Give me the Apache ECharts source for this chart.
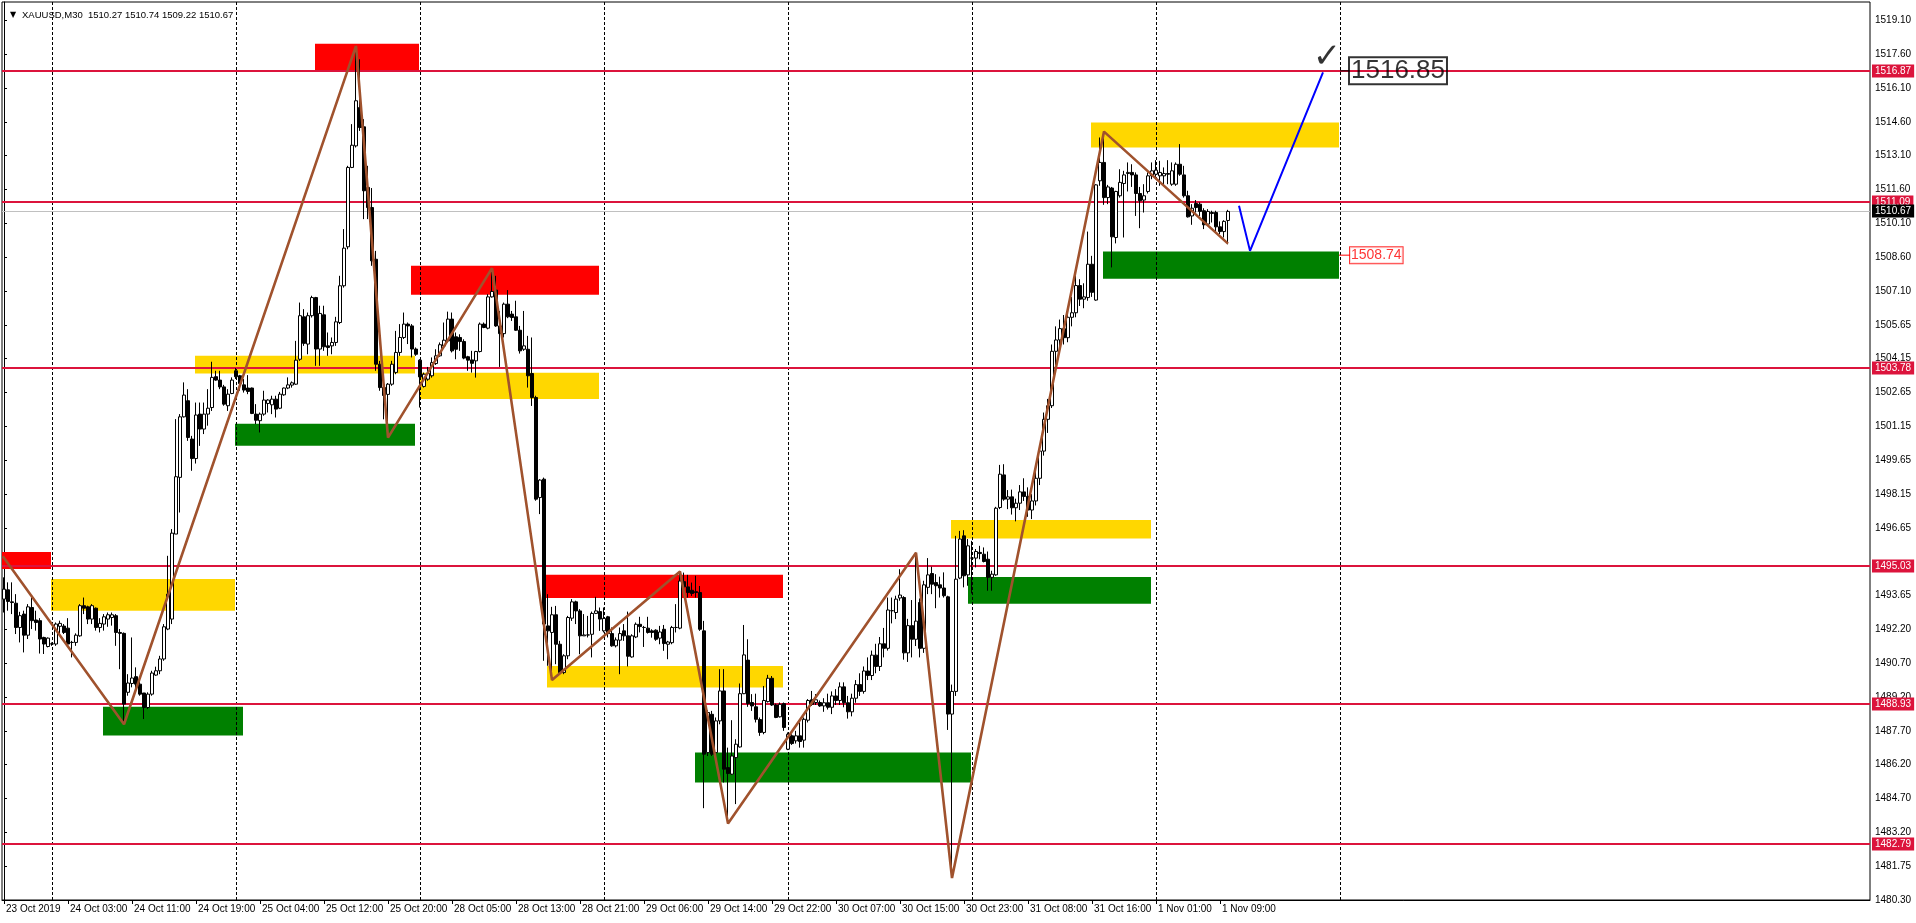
<!DOCTYPE html>
<html><head><meta charset="utf-8">
<script src="https://cdn.jsdelivr.net/npm/echarts@6/dist/echarts.min.js"></script>
<style>html,body{margin:0;padding:0;background:#fff;overflow:hidden}#c{width:1916px;height:923px}</style>
</head><body><div id="c"></div>
<script>
// ---------------- DATA ----------------
const headerText = 'XAUUSD,M30  1510.27 1510.74 1509.22 1510.67';
// trading sessions shown (day label, first hour, last hour) – M30 bars
const sessions = [['23 Oct',18,23.5],['24 Oct',1,23.5],['25 Oct',1,23.5],['28 Oct',1,23.5],['29 Oct',1,23.5],['30 Oct',1,23.5],['31 Oct',1,23.5],['1 Nov',1,10]];
const firstLabelYear = '2019';
const totalSlots = 467;           // bars visible incl. empty future area
const labelEvery = 16;
// candles [open, high, low, close]
const candles = [
[1493.57,1494.53,1492.98,1494.01],[1493.98,1494.31,1493.06,1493.47],[1493.45,1494.31,1492.91,1493.42],[1493.39,1493.79,1492.03,1492.32],[1492.32,1493.01,1491.66,1492.84],
[1492.91,1493.06,1491.22,1491.98],[1491.98,1493.35,1491.81,1493.23],[1493.20,1493.64,1492.25,1492.62],[1492.65,1493.06,1492.18,1492.54],[1492.62,1492.73,1491.17,1491.81],
[1491.88,1491.91,1491.15,1491.59],[1491.48,1491.88,1491.44,1491.85],[1491.59,1491.66,1491.51,1491.60],[1491.59,1492.54,1491.51,1492.47],[1492.37,1492.62,1492.03,1492.50],
[1492.38,1492.47,1492.03,1492.10],[1492.29,1492.73,1491.51,1491.59],[1491.66,1491.73,1491.00,1491.66],[1491.66,1492.06,1491.51,1491.98],[1491.95,1493.35,1491.91,1493.28],
[1493.28,1493.64,1492.91,1493.17],[1493.23,1493.28,1492.47,1492.69],[1492.69,1493.35,1492.47,1493.28],[1493.17,1493.20,1492.18,1492.32],[1492.32,1492.73,1492.10,1492.50],
[1492.47,1492.91,1492.18,1492.79],[1492.69,1492.98,1492.35,1492.88],[1492.76,1492.98,1492.40,1492.88],[1492.84,1492.91,1491.51,1492.10],[1492.10,1492.25,1490.48,1492.06],
[1492.06,1492.10,1488.06,1488.94],[1489.46,1490.26,1489.31,1489.87],[1489.85,1491.88,1489.68,1490.09],[1490.15,1490.56,1489.60,1489.82],[1489.82,1490.12,1489.31,1489.38],
[1489.43,1489.43,1488.28,1488.79],[1488.79,1489.46,1488.72,1489.38],[1489.38,1490.41,1489.31,1490.31],[1490.22,1490.59,1490.19,1490.41],[1490.41,1491.07,1490.26,1490.93],
[1490.93,1492.47,1490.85,1492.35],[1492.25,1495.48,1492.20,1493.79],[1492.69,1496.66,1492.47,1496.48],[1496.44,1501.51,1496.44,1498.97],[1498.94,1501.73,1497.39,1501.61],
[1501.61,1503.13,1501.58,1502.57],[1502.32,1502.83,1500.55,1500.70],[1500.63,1500.77,1499.23,1499.77],[1499.77,1502.24,1499.55,1501.69],[1501.73,1502.24,1500.33,1501.07],
[1501.07,1502.24,1500.85,1501.73],[1501.73,1502.83,1501.22,1501.99],[1502.02,1504.04,1501.87,1503.35],[1503.38,1503.64,1503.20,1503.23],[1503.23,1503.64,1502.83,1502.93],
[1502.93,1503.02,1502.10,1502.17],[1502.10,1502.83,1501.87,1502.61],[1502.64,1503.35,1502.61,1503.23],[1503.64,1503.76,1503.28,1503.38],[1503.42,1503.46,1502.76,1503.08],
[1503.02,1503.28,1502.68,1502.79],[1502.88,1503.45,1502.61,1502.73],[1502.88,1502.90,1501.73,1501.76],[1501.73,1502.17,1501.29,1501.46],[1501.44,1501.80,1500.92,1501.73],
[1501.73,1502.76,1501.66,1502.35],[1502.20,1502.39,1501.80,1502.35],[1502.14,1502.54,1501.73,1502.39],[1502.39,1502.54,1501.58,1501.95],[1501.99,1502.71,1501.95,1502.61],
[1502.58,1502.90,1502.54,1502.88],[1502.88,1503.35,1502.83,1503.02],[1503.01,1503.17,1502.90,1503.11],[1503.05,1504.96,1503.02,1504.11],[1504.15,1506.65,1504.08,1506.07],
[1506.02,1506.36,1504.74,1504.85],[1504.82,1506.21,1504.37,1506.07],[1506.07,1506.95,1505.99,1506.87],[1506.87,1506.90,1503.86,1504.60],[1504.60,1506.51,1503.86,1506.17],
[1506.11,1506.51,1504.52,1504.70],[1504.74,1505.33,1504.30,1504.67],[1504.74,1505.11,1504.37,1504.89],[1504.89,1506.02,1504.74,1505.80],[1505.77,1507.83,1505.70,1507.39],
[1507.39,1509.89,1507.31,1509.05],[1509.11,1512.68,1509.00,1512.61],[1512.61,1514.52,1512.58,1513.59],[1513.56,1517.97,1513.49,1515.55],[1515.25,1517.38,1514.22,1514.37],
[1514.40,1514.74,1510.33,1511.58],[1511.73,1512.68,1510.33,1510.84],[1510.84,1511.70,1508.27,1508.49],[1508.56,1508.93,1503.64,1503.93],[1503.93,1504.08,1502.76,1502.90],
[1502.90,1503.35,1501.50,1502.55],[1502.60,1503.10,1500.70,1503.05],[1503.05,1504.08,1502.98,1503.93],[1503.57,1505.40,1503.49,1504.45],[1504.45,1505.70,1504.30,1505.11],
[1505.11,1506.21,1505.04,1505.70],[1505.70,1505.77,1504.82,1505.62],[1505.62,1505.70,1504.23,1504.60],[1504.60,1504.67,1504.30,1504.37],[1504.11,1504.15,1502.02,1503.37],
[1502.95,1503.56,1502.90,1503.49],[1503.27,1503.81,1503.20,1503.52],[1503.42,1504.23,1503.34,1504.00],[1503.96,1504.59,1503.90,1504.30],[1504.30,1504.89,1504.26,1504.79],
[1504.74,1505.77,1504.70,1504.99],[1504.96,1506.25,1504.89,1505.92],[1505.92,1506.21,1504.45,1504.52],[1505.14,1505.33,1504.15,1504.59],[1505.11,1505.25,1504.52,1504.93],
[1504.93,1505.03,1504.15,1504.20],[1504.26,1504.30,1503.64,1504.11],[1504.12,1504.52,1503.56,1503.97],[1504.08,1504.52,1503.34,1504.49],[1504.49,1505.77,1504.45,1505.70],
[1505.70,1505.77,1505.52,1505.55],[1505.52,1507.02,1505.47,1506.90],[1506.90,1508.12,1506.87,1507.14],[1507.20,1507.83,1505.58,1505.62],[1505.62,1506.28,1503.81,1505.28],
[1505.28,1506.65,1505.11,1506.58],[1506.58,1507.20,1505.96,1506.02],[1506.14,1506.28,1505.84,1505.99],[1506.02,1506.73,1505.40,1505.43],[1505.43,1505.62,1504.40,1504.52],
[1504.59,1506.28,1504.52,1504.74],[1504.59,1505.18,1502.90,1503.42],[1503.52,1505.11,1502.09,1502.46],[1502.46,1502.54,1497.91,1497.98],[1498.05,1498.86,1497.32,1498.82],
[1498.86,1498.93,1490.85,1492.47],[1492.39,1493.79,1490.63,1492.17],[1492.10,1493.23,1490.05,1492.88],[1492.88,1493.27,1490.70,1491.58],[1491.58,1491.73,1490.26,1490.33],
[1490.33,1491.14,1490.26,1491.07],[1491.07,1492.83,1490.92,1492.76],[1492.73,1493.57,1492.61,1493.45],[1493.45,1493.50,1492.47,1493.05],[1493.05,1493.13,1491.14,1491.95],
[1491.95,1492.91,1491.95,1491.99],[1491.99,1492.83,1491.88,1491.99],[1492.02,1493.02,1491.00,1492.94],[1492.94,1493.67,1492.91,1493.05],[1493.02,1493.20,1492.17,1492.69],
[1492.17,1493.20,1492.10,1492.72],[1492.79,1492.83,1491.88,1492.05],[1492.05,1492.32,1491.47,1491.51],[1491.51,1491.88,1491.44,1491.77],[1491.76,1492.32,1490.26,1492.05],
[1492.17,1492.47,1491.73,1491.95],[1491.95,1493.02,1490.60,1491.05],[1491.02,1492.02,1490.99,1491.95],[1491.90,1492.54,1491.85,1492.46],[1492.46,1492.79,1492.10,1492.36],
[1492.32,1492.39,1491.46,1492.32],[1492.29,1492.79,1492.05,1492.10],[1492.17,1492.24,1491.87,1492.10],[1492.20,1492.24,1491.73,1491.80],[1491.85,1492.39,1491.58,1492.12],
[1492.24,1492.43,1491.29,1491.61],[1491.58,1491.73,1490.92,1491.68],[1491.65,1492.39,1491.58,1492.32],[1492.32,1493.35,1492.10,1492.32],[1492.29,1494.78,1492.24,1494.37],
[1494.34,1494.74,1493.93,1494.11],[1494.11,1494.64,1493.64,1493.86],[1493.96,1494.30,1493.71,1493.82],[1493.90,1494.60,1493.64,1493.86],[1493.86,1494.15,1492.17,1492.24],
[1492.17,1492.61,1484.35,1486.73],[1486.80,1488.67,1486.65,1488.57],[1488.49,1488.64,1486.65,1486.73],[1486.80,1488.35,1486.73,1488.20],[1488.20,1490.48,1488.05,1489.52],
[1489.52,1490.48,1485.48,1486.07],[1486.14,1487.02,1483.67,1485.88],[1485.85,1488.23,1485.82,1486.65],[1486.58,1487.39,1484.53,1487.17],[1487.05,1489.85,1487.02,1489.40],
[1489.40,1492.43,1489.38,1491.11],[1490.88,1491.80,1488.82,1488.96],[1489.01,1489.38,1488.64,1488.86],[1488.82,1489.40,1488.13,1488.27],[1488.26,1488.35,1487.54,1487.69],
[1487.69,1489.74,1487.61,1489.10],[1489.05,1490.23,1489.01,1490.08],[1490.08,1490.18,1488.86,1488.90],[1488.90,1488.96,1488.32,1488.35],[1488.38,1489.01,1488.35,1488.93],
[1488.96,1489.01,1487.76,1487.91],[1486.95,1487.69,1486.91,1487.61],[1487.54,1487.61,1487.14,1487.20],[1487.32,1487.76,1487.20,1487.54],[1487.54,1488.13,1487.02,1487.29],
[1487.35,1488.35,1487.02,1488.27],[1488.23,1489.16,1488.13,1489.10],[1489.13,1489.52,1488.86,1488.93],[1489.01,1489.38,1488.90,1489.13],[1489.01,1489.10,1488.82,1488.86],
[1488.86,1489.20,1488.60,1489.00],[1489.00,1489.40,1488.70,1488.80],[1488.80,1489.50,1488.50,1489.30],[1489.30,1489.60,1488.90,1489.10],[1489.10,1489.90,1488.90,1489.70],
[1489.70,1489.90,1488.80,1489.00],[1489.00,1489.30,1488.30,1488.60],[1488.60,1489.40,1488.40,1489.20],[1489.20,1490.00,1489.00,1489.80],[1489.80,1490.30,1489.30,1489.50],
[1489.50,1490.60,1489.40,1490.40],[1490.40,1491.00,1490.00,1490.20],[1490.20,1491.30,1490.00,1491.10],[1491.10,1491.60,1490.30,1490.60],[1490.60,1491.90,1490.40,1491.60],
[1491.60,1492.30,1491.00,1491.40],[1491.40,1493.64,1491.30,1493.09],[1493.06,1493.64,1492.50,1493.06],[1492.98,1493.72,1492.69,1493.57],[1493.62,1494.89,1493.50,1493.75],
[1493.64,1493.70,1490.90,1491.20],[1491.20,1492.70,1490.80,1492.40],[1492.40,1493.53,1491.00,1491.80],[1491.80,1495.62,1491.50,1492.60],[1493.42,1493.60,1491.00,1491.40],
[1491.40,1494.38,1491.20,1494.20],[1494.09,1495.38,1493.79,1494.64],[1494.70,1495.00,1493.79,1494.23],[1494.30,1494.67,1493.17,1494.16],[1494.20,1494.56,1493.64,1494.06],
[1494.06,1494.75,1493.64,1493.72],[1493.67,1493.72,1487.80,1488.50],[1488.50,1489.80,1481.27,1489.50],[1489.50,1496.36,1489.30,1494.45],[1494.50,1496.58,1494.45,1496.22],
[1496.36,1496.61,1494.09,1494.60],[1494.64,1496.22,1494.16,1495.92],[1495.38,1496.14,1493.82,1495.38],[1495.38,1495.78,1494.97,1495.67],[1495.63,1495.92,1495.33,1495.58],
[1495.55,1495.85,1495.19,1495.23],[1495.33,1495.67,1493.94,1494.53],[1494.53,1494.82,1493.94,1494.67],[1494.64,1497.64,1494.60,1497.58],[1497.61,1499.49,1497.54,1499.08],
[1499.05,1499.52,1497.91,1497.98],[1497.98,1498.38,1497.54,1498.08],[1498.08,1498.40,1497.30,1497.60],[1497.60,1498.00,1497.00,1497.80],[1497.80,1498.60,1497.50,1498.30],
[1498.30,1498.90,1497.90,1498.10],[1498.10,1498.50,1497.20,1497.50],[1497.50,1498.20,1497.10,1497.90],[1497.90,1499.20,1497.70,1498.90],[1498.90,1500.30,1498.60,1500.10],
[1500.10,1501.80,1499.90,1501.50],[1501.50,1502.40,1500.90,1502.10],[1502.10,1504.80,1502.00,1504.50],[1504.50,1505.60,1503.90,1505.00],[1505.00,1505.90,1504.60,1505.50],
[1505.50,1506.10,1504.80,1505.10],[1505.10,1506.40,1504.90,1506.00],[1506.00,1506.90,1505.60,1506.20],[1506.20,1507.90,1506.00,1507.40],[1507.40,1507.68,1506.50,1506.80],
[1506.80,1507.50,1506.40,1506.90],[1506.87,1509.78,1506.73,1508.34],[1508.34,1508.71,1506.90,1507.10],[1506.76,1511.87,1506.73,1511.84],[1512.02,1513.93,1511.80,1512.83],
[1512.83,1514.19,1510.96,1511.28],[1511.28,1511.84,1510.99,1511.75],[1511.70,1511.75,1508.20,1509.55],[1509.52,1511.58,1509.26,1511.55],[1511.36,1512.53,1511.28,1511.95],
[1511.90,1512.46,1509.52,1512.28],[1512.34,1512.83,1511.55,1512.39],[1512.39,1512.75,1511.75,1512.28],[1512.28,1512.39,1510.47,1511.46],[1511.46,1511.75,1509.93,1511.14],
[1511.17,1511.87,1510.62,1511.36],[1511.55,1512.39,1511.46,1512.24],[1512.24,1512.83,1512.09,1512.46],[1512.31,1512.93,1512.09,1512.49],[1512.24,1512.90,1511.80,1512.39],
[1512.24,1512.61,1511.87,1512.34],[1512.34,1512.93,1511.87,1512.31],[1511.87,1512.83,1511.80,1512.46],[1511.87,1512.83,1511.80,1512.75],[1512.75,1513.64,1512.24,1512.31],
[1512.28,1512.68,1511.28,1511.36],[1511.36,1511.58,1510.40,1510.43],[1510.47,1510.99,1510.08,1510.81],[1511.02,1511.17,1510.62,1510.84],[1510.99,1511.07,1510.47,1510.67],
[1510.70,1510.81,1509.89,1510.08],[1510.11,1510.77,1510.08,1510.67],[1510.62,1510.70,1510.18,1510.58],[1510.62,1510.70,1509.78,1509.99],[1509.99,1510.23,1509.67,1509.78],
[1509.78,1510.28,1509.52,1510.23],[1510.27,1510.74,1509.22,1510.67]
];
// horizontal levels and current bid
const levels = [1516.87, 1511.09, 1503.78, 1495.03, 1488.93, 1482.79];
const bidPrice = 1510.67;
// price scale tick labels (bottom to top); the one hidden under the 1495.03 tag is blank
const yMin = 1480.30, yStep = 1.4923, yMax = 1519.906;
const yTickLabels = ['1480.30','1481.75','1483.20','1484.70','1486.20','1487.70','1489.20','1490.70','1492.20','1493.65','','1496.65','1498.15','1499.65','1501.15','1502.65','1504.15','1505.65','1507.10','1508.60','1510.10','1511.60','1513.10','1514.60','1516.10','1517.60','1519.10'];
// day separators (bar index)
const separators = [12, 58, 104, 150, 196, 242, 288, 334];
// zones [fromBar, toBar, topPrice, bottomPrice, kind]
const zones = [
 [-0.5, 11.75, 1495.65, 1494.90, 'R'],
 [11.75, 57.75, 1494.46, 1493.06, 'Y'],
 [24.75, 59.75, 1488.82, 1487.56, 'G'],
 [47.75, 102.75, 1504.30, 1503.52, 'Y'],
 [57.75, 102.75, 1501.31, 1500.33, 'G'],
 [77.75, 103.75, 1518.07, 1516.90, 'R'],
 [101.75, 148.75, 1508.27, 1506.99, 'R'],
 [103.75, 148.75, 1503.55, 1502.40, 'Y'],
 [135.25, 194.75, 1494.64, 1493.62, 'R'],
 [135.75, 194.75, 1490.62, 1489.67, 'Y'],
 [172.75, 241.75, 1486.80, 1485.48, 'G'],
 [236.75, 286.75, 1497.06, 1496.24, 'Y'],
 [241.0, 286.75, 1494.55, 1493.37, 'G'],
 [271.75, 333.75, 1514.59, 1513.49, 'Y'],
 [274.75, 333.75, 1508.90, 1507.70, 'G']
];
// zigzag swing points [bar, price]
const zigzag = [[-0.3,1495.46],[30,1488.05],[88,1517.97],[96,1500.69],[122,1508.17],[137,1490.00],[169,1494.79],[181,1483.67],[228,1495.62],[237,1481.27],[275,1514.19],[306,1509.25]];
// projected path
const projection = [[308.75,1510.92],[311.5,1508.93],[329.75,1516.80]];
const targetNote = {bar: 336.25, price: 1516.87, text: '1516.85', from: 334};
const stopNote = {bar: 336.5, price: 1508.74, text: '1508.74', from: 333.75};
const checkNote = {bar: 330.75, price: 1517.45, text: '✓'};

// ---------------- BUILD ----------------
const categories = [];
sessions.forEach(([day, from, to]) => {
  for (let t = from; t <= to + 1e-9; t += 0.5) {
    const hh = String(Math.floor(t)).padStart(2, '0');
    const mm = (t % 1) ? '30' : '00';
    categories.push(categories.length === 0 ? day + ' ' + firstLabelYear : day + ' ' + hh + ':' + mm);
  }
});
while (categories.length < totalSlots) categories.push('');
const nBars = candles.length;
const showIdx = (i) => i < nBars && i % labelEvery === 0;

const FONT = "'Liberation Sans', Arial, sans-serif";
const zoneColor = {R: '#FF0000', Y: '#FFD700', G: '#008000'};
const CRIMSON = '#DC143C';
const levelItems = levels.map(v => [v, 0]).concat([[bidPrice, 1]]);

const chart = echarts.init(document.getElementById('c'), null, {renderer: 'canvas'});
const option = {
  animation: false,
  backgroundColor: '#ffffff',
  title: [
    {text: '▼', left: 5, top: 6, textStyle: {fontSize: 8, color: '#000', fontWeight: 'normal', fontFamily: 'DejaVu Sans'}},
    {text: headerText, left: 17, top: 5, textStyle: {fontSize: 9.5, color: '#000', fontWeight: 'normal', fontFamily: FONT}}
  ],
  grid: {left: 2, right: 46, top: 2, bottom: 23, show: true, borderColor: '#000', borderWidth: 1, containLabel: false, outerBoundsMode: 'none'},
  xAxis: [{
    type: 'category', data: categories, boundaryGap: true,
    axisLine: {show: true, lineStyle: {color: '#000', width: 1}},
    axisTick: {show: true, alignWithLabel: true, interval: showIdx, length: 4, lineStyle: {color: '#000'}},
    axisLabel: {show: true, interval: showIdx, align: 'left', color: '#000', fontSize: 10, fontFamily: FONT, margin: 4, padding: [0, 0, 0, 2], hideOverlap: false},
    splitLine: {show: false}
  }, {
    type: 'value', min: -0.5, max: totalSlots - 0.5, show: false, gridIndex: 0
  }],
  yAxis: [{
    type: 'value', position: 'right', min: yMin, max: yMax, interval: yStep, scale: true,
    axisLine: {show: true, lineStyle: {color: '#000', width: 1}},
    axisTick: {show: true, inside: false, length: 3, lineStyle: {color: '#000'}},
    axisLabel: {show: true, color: '#000', fontSize: 10, fontFamily: FONT, margin: 5, showMaxLabel: false,
      formatter: (v) => {
        const k = Math.round((v - yMin) / yStep);
        if (k < 0 || k >= yTickLabels.length || Math.abs(v - (yMin + k * yStep)) > 1e-3) return '';
        return yTickLabels[k];
      }},
    splitLine: {show: false}
  }],
  series: [
    { // zones
      type: 'custom', xAxisIndex: 1, yAxisIndex: 0, z: 1, silent: true,
      data: zones.map(z => [z[0], z[1], z[2], z[3]]),
      encode: {x: [0, 1], y: [2, 3]},
      renderItem: (params, api) => {
        const a = api.coord([api.value(0), api.value(2)]);
        const b = api.coord([api.value(1), api.value(3)]);
        return {type: 'rect', shape: {x: a[0], y: a[1], width: b[0] - a[0], height: b[1] - a[1]},
          style: {fill: zoneColor[zones[params.dataIndex][4]]}};
      }
    },
    { // day separators
      type: 'custom', xAxisIndex: 1, yAxisIndex: 0, z: 2, silent: true,
      data: separators.map(s => [s]),
      encode: {x: 0},
      renderItem: (params, api) => {
        const a = api.coord([api.value(0), yMax]);
        const b = api.coord([api.value(0), yMin]);
        const x = Math.round(a[0]) + 0.5;
        return {type: 'line', shape: {x1: x, y1: a[1], x2: x, y2: b[1]},
          style: {stroke: '#000', lineWidth: 1, lineDash: [3, 2]}};
      }
    },
    { // level lines + price tags
      type: 'custom', xAxisIndex: 1, yAxisIndex: 0, z: 3, silent: true, clip: false,
      data: levelItems, encode: {y: 0},
      renderItem: (params, api) => {
        const v = api.value(0), isBid = api.value(1) === 1;
        const a = api.coord([-0.5, v]);
        const b = api.coord([totalSlots - 0.5, v]);
        const y = isBid ? Math.round(a[1]) + 0.5 : Math.round(a[1]);
        return {type: 'group', children: [
          {type: 'line', shape: {x1: a[0], y1: y, x2: b[0], y2: y},
            style: {stroke: isBid ? '#C0C0C0' : CRIMSON, lineWidth: isBid ? 1 : 2}},
          {type: 'text', x: b[0] + 2, y: Math.round(a[1]), z2: 10,
            style: {text: v.toFixed(2), fill: '#fff', backgroundColor: isBid ? '#000' : CRIMSON,
              padding: [2, 3, 1, 3], font: "10px 'Liberation Sans', Arial, sans-serif", verticalAlign: 'middle', align: 'left'}}
        ]};
      }
    },
    { // candles
      type: 'candlestick', xAxisIndex: 0, yAxisIndex: 0, z: 4, barWidth: 3,
      data: candles.map(c => [c[0], c[3], c[2], c[1]]),
      itemStyle: {color: '#ffffff', color0: '#000000', borderColor: '#000000', borderColor0: '#000000', borderColorDoji: '#000000', borderWidth: 1}
    },
    { // zigzag
      type: 'line', xAxisIndex: 1, yAxisIndex: 0, z: 5, silent: true,
      data: zigzag, symbol: 'none', lineStyle: {color: '#A0522D', width: 2.6}
    },
    { // projection
      type: 'line', xAxisIndex: 1, yAxisIndex: 0, z: 5, silent: true,
      data: projection, symbol: 'none', lineStyle: {color: '#0000FF', width: 2}
    },
    { // connectors
      type: 'line', xAxisIndex: 1, yAxisIndex: 0, z: 5, silent: true, symbol: 'none',
      data: [[targetNote.from, targetNote.price], [targetNote.bar, targetNote.price]],
      lineStyle: {color: '#000', width: 1}
    },
    {
      type: 'line', xAxisIndex: 1, yAxisIndex: 0, z: 5, silent: true, symbol: 'none',
      data: [[stopNote.from, stopNote.price], [stopNote.bar, stopNote.price]],
      lineStyle: {color: '#FF0000', width: 1}
    },
    { // text notes
      type: 'scatter', xAxisIndex: 1, yAxisIndex: 0, z: 6, silent: true, symbolSize: 0,
      data: [
        {value: [targetNote.bar, targetNote.price], label: {show: true, position: 'right', distance: 0, formatter: targetNote.text,
          fontSize: 26, color: '#000', fontFamily: FONT, borderColor: '#000', borderWidth: 1, padding: [1, 2, 0, 2], backgroundColor: 'transparent'}},
        {value: [stopNote.bar, stopNote.price], label: {show: true, position: 'right', distance: 0, formatter: stopNote.text,
          fontSize: 14, color: '#FF0000', fontFamily: FONT, borderColor: '#FF0000', borderWidth: 1, padding: [2, 1, 0, 1], backgroundColor: '#fff'}},
        {value: [checkNote.bar, checkNote.price], label: {show: true, position: 'inside', formatter: checkNote.text,
          fontSize: 34, fontWeight: 'bold', color: '#000', fontFamily: 'DejaVu Sans'}}
      ]
    }
  ]
};
chart.setOption(option);
</script>
</body></html>
